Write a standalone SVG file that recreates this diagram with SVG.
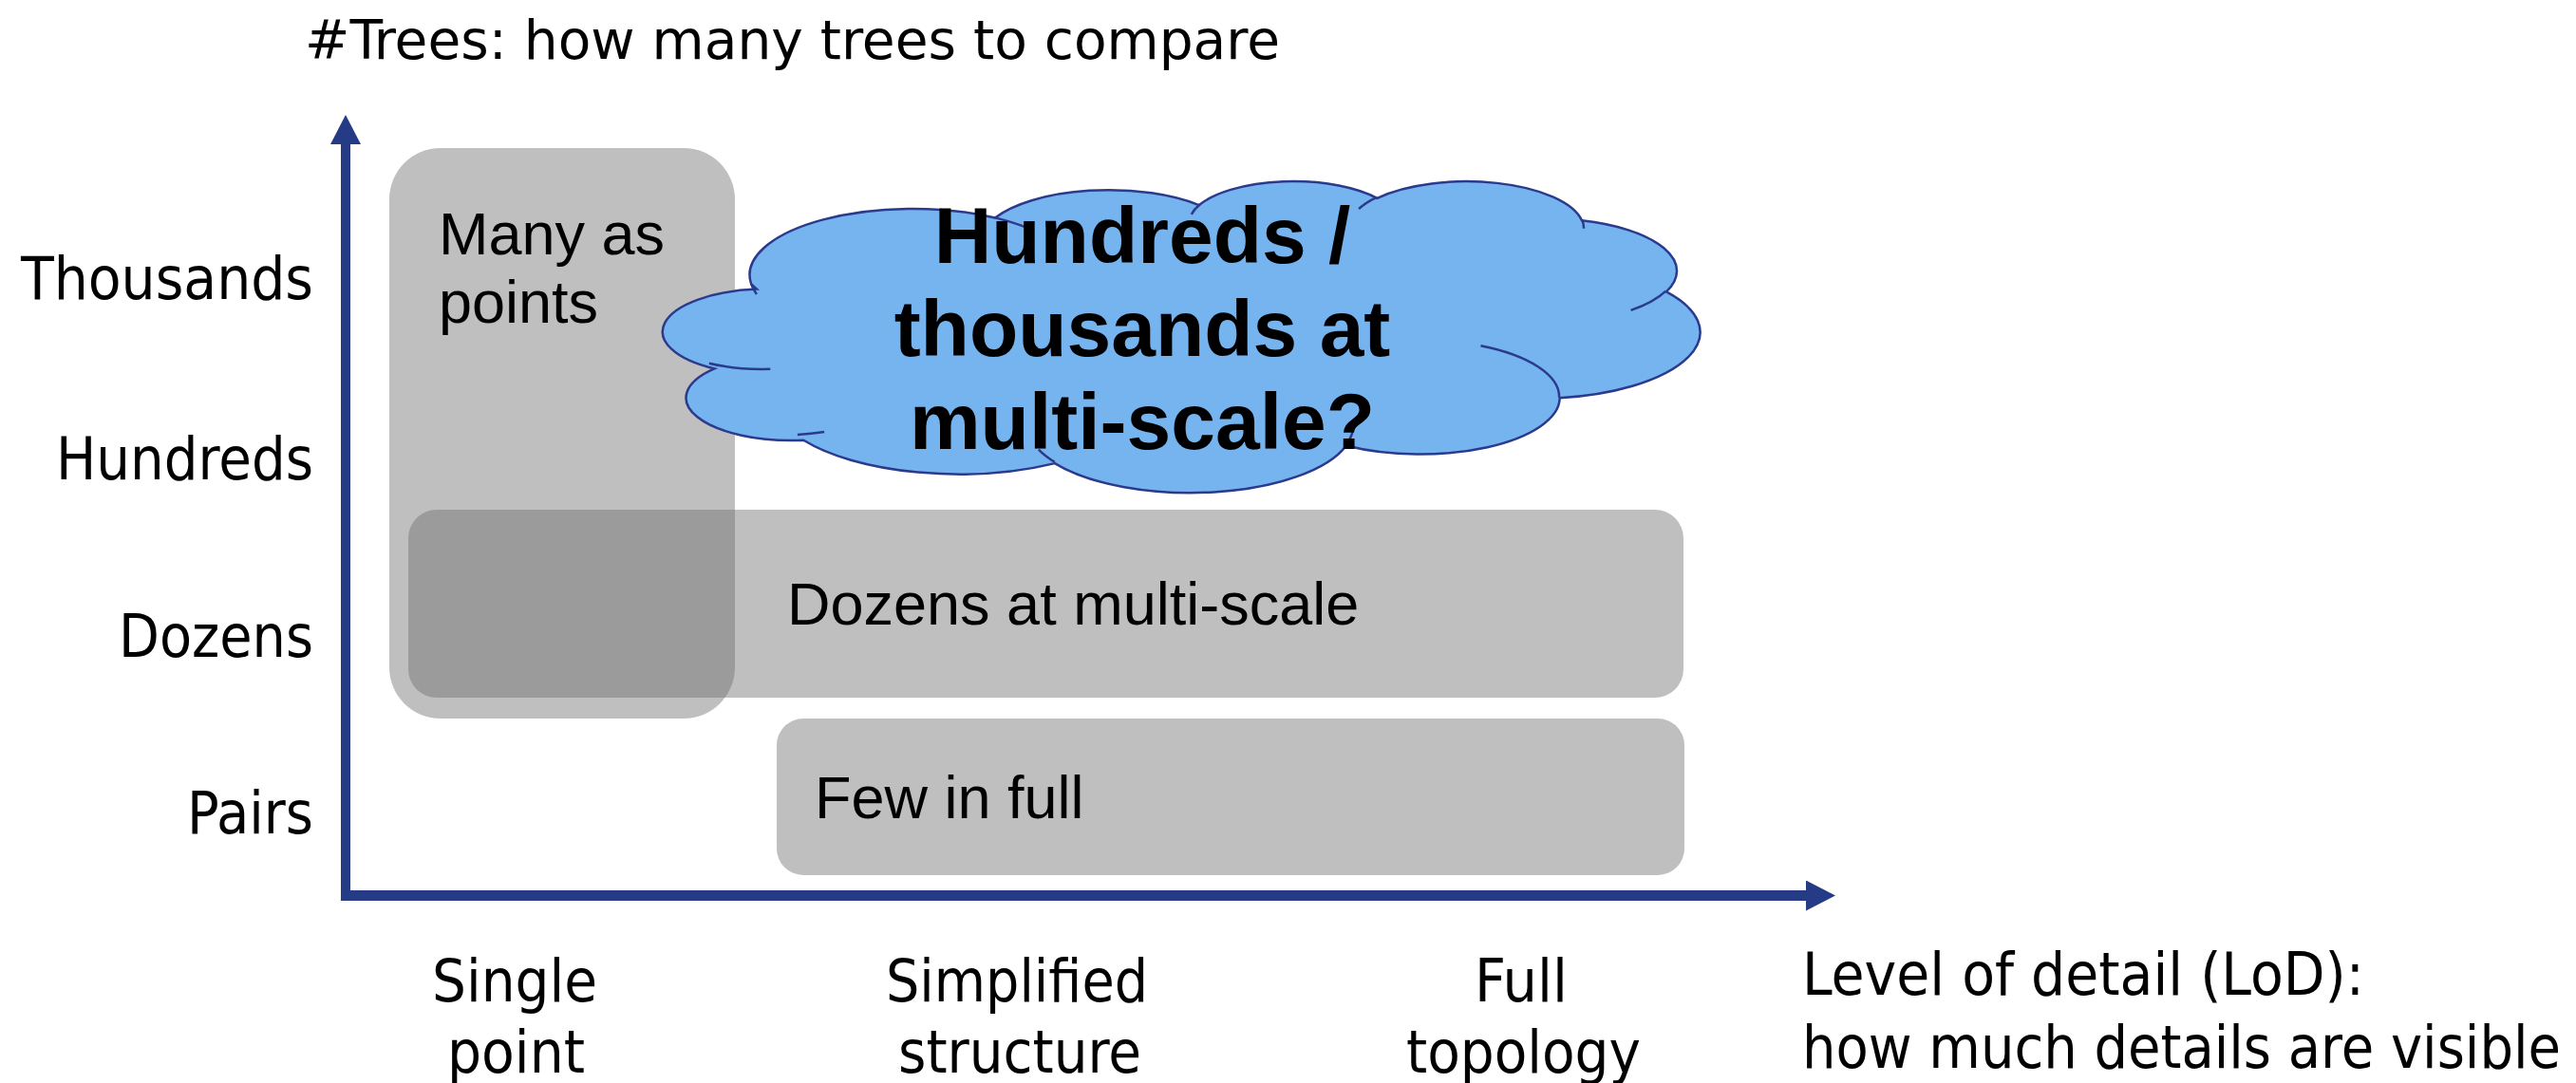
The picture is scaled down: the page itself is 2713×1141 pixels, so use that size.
<svg xmlns="http://www.w3.org/2000/svg" width="2713" height="1141" viewBox="0 0 2713 1141">
<style>
.box{fill:rgb(109,109,109);fill-opacity:0.4375}
.axis{stroke:#263B85;fill:none}
.lbl{font-family:"DejaVu Sans Condensed","DejaVu Sans",sans-serif;font-size:63px;fill:#000}
.ttl{font-family:"DejaVu Sans Condensed","DejaVu Sans",sans-serif;font-size:57px;fill:#000}
.in{font-family:"Liberation Sans",Arial,sans-serif;font-size:63px;fill:#000}
.cl{font-family:"Liberation Sans",Arial,sans-serif;font-size:84px;font-weight:bold;fill:#000;text-anchor:middle}
.cloud{fill:#76B4F0;stroke:#2B3A8C;stroke-width:2.5}
.crease{fill:none;stroke:#2B3A8C;stroke-width:2.5}
</style>
<defs>
<marker id="ah" viewBox="0 0 31 32" markerWidth="31" markerHeight="32" refX="0" refY="16" orient="auto" markerUnits="userSpaceOnUse">
<path d="M0,0 L31,16 L0,32 Z" fill="#263B85"/>
</marker>
</defs>
<rect width="2713" height="1141" fill="#fff"/>

<g id="title">
<text class="ttl" x="321" y="62" textLength="1027" lengthAdjust="spacingAndGlyphs">#Trees: how many trees to compare</text>
</g>

<g id="y-labels">
<text class="lbl" x="22" y="315" textLength="308" lengthAdjust="spacingAndGlyphs">Thousands</text>
<text class="lbl" x="59" y="505" textLength="271" lengthAdjust="spacingAndGlyphs">Hundreds</text>
<text class="lbl" x="125" y="692" textLength="205" lengthAdjust="spacingAndGlyphs">Dozens</text>
<text class="lbl" x="197" y="878" textLength="133" lengthAdjust="spacingAndGlyphs">Pairs</text>
</g>

<g id="x-labels">
<text class="lbl" x="455" y="1055" textLength="174" lengthAdjust="spacingAndGlyphs">Single</text>
<text class="lbl" x="471" y="1130" textLength="145" lengthAdjust="spacingAndGlyphs">point</text>
<text class="lbl" x="933" y="1055" textLength="276" lengthAdjust="spacingAndGlyphs">Simplified</text>
<text class="lbl" x="946" y="1130" textLength="256" lengthAdjust="spacingAndGlyphs">structure</text>
<text class="lbl" x="1553" y="1055" textLength="98" lengthAdjust="spacingAndGlyphs">Full</text>
<text class="lbl" x="1481" y="1130" textLength="247" lengthAdjust="spacingAndGlyphs">topology</text>
<text class="lbl" x="1898" y="1048" textLength="592" lengthAdjust="spacingAndGlyphs">Level of detail (LoD):</text>
<text class="lbl" x="1898" y="1125" textLength="799" lengthAdjust="spacingAndGlyphs">how much details are visible</text>
</g>

<g id="many-as-points">
<rect class="box" x="410" y="156" width="364" height="601" rx="54" ry="54"/>
</g>
<g id="dozens">
<rect class="box" x="430" y="537" width="1343" height="198" rx="30" ry="30"/>
<text class="in" x="829" y="658">Dozens at multi-scale</text>
</g>
<g id="few-in-full">
<rect class="box" x="818" y="757" width="956" height="165" rx="28" ry="28"/>
<text class="in" x="858" y="862">Few in full</text>
</g>
<g id="many-as-points-label">
<text class="in" x="462" y="268">Many as</text>
<text class="in" x="462" y="340">points</text>
</g>

<g id="cloud">
<path class="cloud" d="M791.1,299.1 A171.6,69.8 0 0 1 1048.0,229.5 A135.5,55.2 0 0 1 1262.8,216.1 A110.9,45.1 0 0 1 1450.4,208.8 A123.5,50.1 0 0 1 1666.0,232.3 A135.5,55.2 0 0 1 1755.0,307.4 A172.2,70.0 0 0 1 1642.7,419.3 A147.0,59.7 0 0 1 1417.8,469.5 A171.6,70.0 0 0 1 1110.9,488.1 A196.2,80.0 0 0 1 846.3,463.7 A110.8,44.9 0 0 1 752.5,388.4 A110.4,45.1 0 0 1 797.0,304.6 L791.1,299.1 Z"/>
<path class="crease" d="M811.3,388.8 A110.4,45.1 0 0 1 746.9,382.7 M868.1,455.0 A110.8,44.9 0 0 1 839.9,457.9 M1110.8,486.8 A171.6,70.0 0 0 1 1093.8,473.6 M1424.7,453.8 A171.6,70.0 0 0 1 1417.9,468.3 M1559.5,364.3 A147.0,59.7 0 0 1 1642.1,418.5 M1754.4,306.6 A135.5,55.2 0 0 1 1717.6,326.9 M1666.1,231.2 A123.5,50.1 0 0 1 1668.0,240.8 M1431.1,220.0 A123.5,50.1 0 0 1 1449.9,207.8 M1254.8,225.8 A110.9,45.1 0 0 1 1263.9,215.3 M1047.8,229.4 A171.6,69.8 0 0 1 1080.9,239.7 M796.9,309.9 A171.6,69.8 0 0 1 791.1,299.1"/>
<text class="cl" x="1203" y="277">Hundreds /</text>
<text class="cl" x="1203" y="375">thousands at</text>
<text class="cl" x="1203" y="473">multi-scale?</text>
</g>

<g id="connectors">
<line class="axis" x1="364" y1="949" x2="364" y2="152" stroke-width="10" marker-end="url(#ah)"/>
<line class="axis" x1="359" y1="943.5" x2="1902" y2="943.5" stroke-width="11" marker-end="url(#ah)"/>
</g>
</svg>
